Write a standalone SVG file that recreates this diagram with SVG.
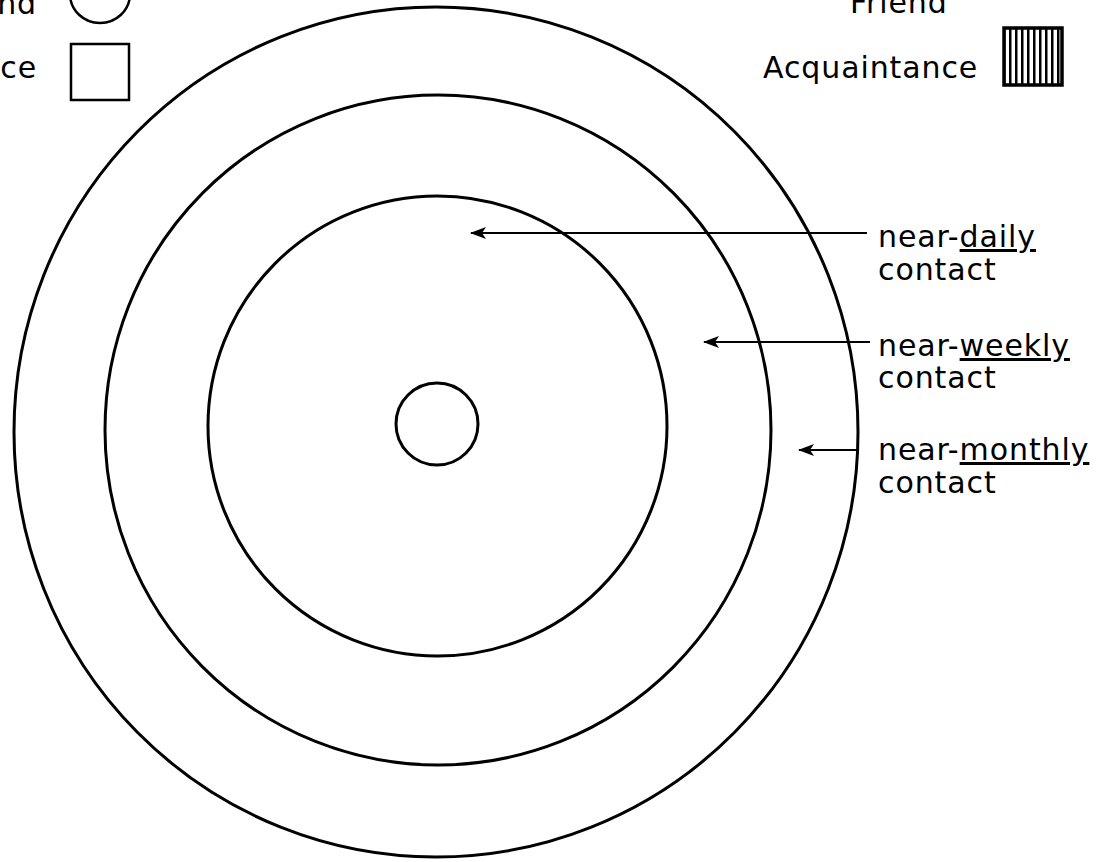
<svg xmlns="http://www.w3.org/2000/svg" width="1106" height="862" viewBox="0 0 1106 862">
<style>
  .ring { fill: none; stroke: #000; stroke-width: 3; }
  .lbl { font-family: "DejaVu Sans", Verdana, sans-serif; font-size: 30px; letter-spacing: 0.9px; fill: #000; }
  .conn { stroke: #000; stroke-width: 2; fill: none; }
  .legend-shape { fill: #fff; stroke: #000; stroke-width: 2.5; }
</style>
<defs>
  <marker id="arrow" viewBox="0 0 16 12" refX="15" refY="6" markerWidth="16" markerHeight="12" markerUnits="userSpaceOnUse" orient="auto">
    <path d="M16,6 L0,0 L4,6 L0,12 Z" fill="#000"/>
  </marker>
  <pattern id="stripes" x="1003" y="0" width="6" height="10" patternUnits="userSpaceOnUse">
    <rect x="0" y="0" width="6" height="10" fill="#fff"/>
    <rect x="0" y="0" width="2.5" height="10" fill="#000"/>
  </pattern>
</defs>
<rect width="1106" height="862" fill="#fff"/>

<g id="ring-monthly"><ellipse class="ring" cx="436" cy="432" rx="422" ry="425"/></g>
<g id="ring-weekly"><ellipse class="ring" cx="438" cy="430" rx="333" ry="335"/></g>
<g id="ring-daily"><ellipse class="ring" cx="437.5" cy="426" rx="229.5" ry="230"/></g>
<g id="center"><circle class="ring" cx="437" cy="424" r="41"/></g>

<g id="connectors">
  <line class="conn" x1="867" y1="233" x2="471" y2="233" marker-end="url(#arrow)"/>
  <line class="conn" x1="870" y1="342" x2="704" y2="342" marker-end="url(#arrow)"/>
  <line class="conn" x1="858" y1="450" x2="799" y2="450" marker-end="url(#arrow)"/>
</g>

<g id="label-daily">
  <text class="lbl" x="878" y="247">near-<tspan text-decoration="underline">daily</tspan></text>
  <text class="lbl" x="878" y="280">contact</text>
</g>
<g id="label-weekly">
  <text class="lbl" x="878" y="356">near-<tspan text-decoration="underline">weekly</tspan></text>
  <text class="lbl" x="878" y="388">contact</text>
</g>
<g id="label-monthly">
  <text class="lbl" x="878" y="460">near-<tspan text-decoration="underline">monthly</tspan></text>
  <text class="lbl" x="878" y="493">contact</text>
</g>

<g id="legend-left">
  <text class="lbl" x="37" y="14" text-anchor="end">Friend</text>
  <ellipse class="legend-shape" cx="100" cy="-6" rx="30" ry="29"/>
  <text class="lbl" x="37" y="78" text-anchor="end">Acquaintance</text>
  <rect class="legend-shape" x="71" y="44" width="58" height="56"/>
</g>

<g id="legend-right">
  <text class="lbl" x="850" y="13">Friend</text>
  <text class="lbl" x="763" y="78">Acquaintance</text>
  <rect x="1004" y="28" width="58" height="57" fill="url(#stripes)" stroke="#000" stroke-width="3.5"/>
</g>
</svg>
